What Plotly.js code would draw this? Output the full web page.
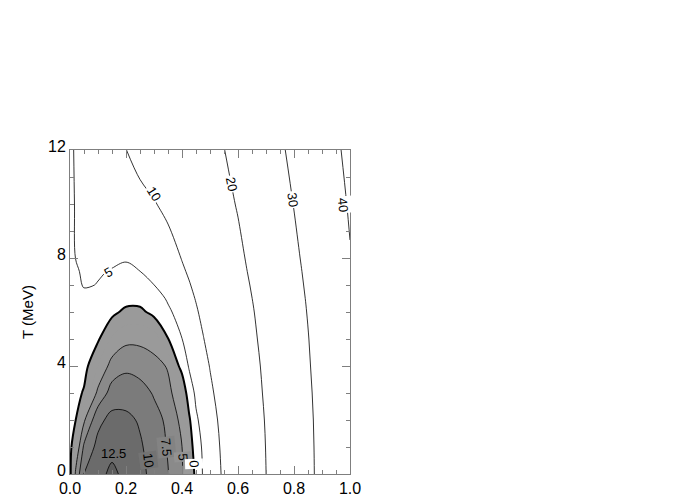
<!DOCTYPE html>
<html>
<head>
<meta charset="utf-8">
<script src="https://cdn.plot.ly/plotly-3.0.1.min.js"></script>
<style>
  html, body { margin: 0; padding: 0; background: #fff; }
  #plot { width: 700px; height: 500px; }
</style>
</head>
<body>
<div id="plot"></div>
<script>
// grid: x along the bottom, T (MeV) up the side
var xVals = [0, 0.02, 0.05, 0.1, 0.15, 0.2, 0.25, 0.3, 0.35, 0.4, 0.425, 0.45, 0.475, 0.5, 0.55, 0.6, 0.7, 0.8, 0.9, 1.0];
var tVals = [0, 1, 2, 3, 4, 5, 6, 6.5, 7, 7.5, 8, 10, 12];

// one row per T value, negative inside the shaded pocket
var rowT0   = [0.8, -5.4, -10.1, -11.8, -13.0, -11.9, -10.7, -9.2, -7.6, -5.2, -2.6, 0.83, 5.37, 7.21, 10.74, 13.83, 19.98, 25.78, 31.59, 37.5];
var rowT1   = [1.0, -2.9, -7.93, -10.8, -11.84, -11.07, -10.31, -8.9, -7.3, -5.02, -2.02, 1.9, 5.86, 7.64, 11.03, 14.06, 20.11, 25.86, 31.66, 37.6];
var rowT2   = [1.5, 0.05, -4.66, -9.32, -10.8, -10.6, -9.72, -8.2, -7.1, -4.2, -0.83, 4.29, 6.53, 8.26, 11.48, 14.44, 20.34, 26.02, 31.78, 37.7];
var rowT3   = [2.0, 0.9, -0.3, -5.66, -8.53, -8.83, -8.33, -7.31, -5.57, -3.5, 2.3, 5.92, 7.57, 9.21, 12.17, 15.03, 20.73, 26.31, 32.0, 37.9];
var rowT4   = [2.4, 1.7, 1.0, -2.53, -6.06, -7.01, -6.69, -5.77, -4.81, 1.43, 5.4, 6.95, 8.57, 10.16, 12.9, 15.63, 21.11, 26.67, 32.31, 38.1];
var rowT5   = [2.8, 2.5, 2.4, 0.33, -2.84, -4.37, -4.38, -4.0, -0.15, 4.95, 6.6, 8.21, 9.81, 11.15, 13.75, 16.35, 21.62, 27.03, 32.61, 38.4];
var rowT6   = [3.2, 3.35, 3.8, 2.5, 0.7, -0.67, -0.73, 0.9, 4.23, 6.9, 8.3, 9.59, 10.84, 12.08, 14.55, 17.03, 22.14, 27.49, 33.05, 38.8];
var rowT6h  = [3.5, 3.8, 4.45, 3.6, 2.11, 1.03, 1.15, 2.88, 5.54, 7.8, 9.05, 10.19, 11.4, 12.61, 15.02, 17.44, 22.49, 27.78, 33.3, 39.0];
var rowT7   = [3.8, 4.5, 5.15, 4.95, 3.51, 2.65, 3.08, 4.98, 6.6, 8.6, 9.73, 10.85, 12.02, 13.19, 15.54, 17.89, 22.88, 28.12, 33.59, 39.2];
var rowT7h  = [4.2, 4.75, 5.3, 5.12, 4.92, 4.26, 4.98, 6.0, 7.6, 9.45, 10.45, 11.58, 12.71, 13.85, 16.11, 18.37, 23.3, 28.45, 33.91, 39.5];
var rowT8   = [4.5, 5.02, 5.3, 5.3, 5.25, 5.32, 5.67, 6.47, 8.02, 10.17, 11.21, 12.29, 13.38, 14.46, 16.62, 18.79, 23.69, 28.82, 34.22, 39.7];
var rowT10  = [4.6, 5.1, 5.55, 6.38, 7.21, 8.04, 8.87, 9.7, 11.17, 12.99, 13.91, 14.82, 15.73, 16.64, 18.47, 20.39, 25.27, 30.16, 35.45, 40.6];
var rowT12  = [4.6, 5.21, 6.0, 7.31, 8.63, 9.95, 11.36, 12.78, 14.2, 15.63, 16.34, 17.05, 17.76, 18.47, 19.89, 22.12, 26.73, 31.48, 36.58, 41.6];

var outerLevels = [5, 10, 20, 30, 40];
var innerLevels = [0, 5, 7.5, 10, 12.5];

// contour labels, where the picture puts them
var labelText  = ['10', '20', '30', '40', '5', '12.5', '10', '7.5', '5', '0'];
var labelX     = [0.299, 0.577, 0.794, 0.976, 0.136, 0.155, 0.28, 0.346, 0.402, 0.443];
var labelT     = [10.39, 10.76, 10.15, 9.96, 7.46, 0.76, 0.5, 1.0, 0.63, 0.39];
var labelAngle = [58, 79, 82, 84, -30, 0, 82, 84, 86, 88];
var labelBg    = ['#fff', '#fff', '#fff', '#fff', '#fff', 'rgba(0,0,0,0)', '#737373', '#838383', '#929292', '#fff'];

var z = [rowT0, rowT1, rowT2, rowT3, rowT4, rowT5, rowT6, rowT6h, rowT7, rowT7h, rowT8, rowT10, rowT12];
// the pocket is labelled by its size, so flip the sign for it
var zIn = z.map(r => r.map(v => -v));

function levelTrace(zz, level, width) {
  return {
    type: 'contour', x: xVals, y: tVals, z: zz,
    autocontour: false,
    contours: {start: level, end: level, size: 2.5, coloring: 'none', showlabels: false},
    line: {color: '#000', width: width, smoothing: 1},
    showscale: false, hoverinfo: 'skip'
  };
}

var shade = {
  type: 'contour', x: xVals, y: tVals, z: zIn,
  autocontour: false,
  contours: {start: 0, end: 12.5, size: 2.5, coloring: 'fill', showlines: false},
  colorscale: [[0, '#ffffff'], [1/6, '#9a9a9a'], [2/6, '#9a9a9a'], [3/6, '#8a8a8a'],
               [4/6, '#7b7b7b'], [5/6, '#6b6b6b'], [1, '#5c5c5c']],
  line: {width: 0, smoothing: 1},
  showscale: false, hoverinfo: 'skip'
};

var data = [shade];
innerLevels.forEach(lv => data.push(levelTrace(zIn, lv, lv === 0 ? 2 : 0.8)));
outerLevels.forEach(lv => data.push(levelTrace(z, lv, 0.8)));

var labelFont = {family: 'Liberation Sans, Arial, sans-serif', size: 13, color: '#000'};
var annotations = labelText.map((txt, i) => ({
  x: labelX[i], y: labelT[i], xref: 'x', yref: 'y',
  text: txt, showarrow: false, textangle: labelAngle[i],
  font: labelFont, bgcolor: labelBg[i], borderpad: 1
}));

var axisGray = '#7f7f7f';
var tickFont = {family: 'Liberation Sans, Arial, sans-serif', size: 16, color: '#000'};

var layout = {
  width: 700, height: 500,
  margin: {l: 70, r: 350, t: 150, b: 26},
  paper_bgcolor: '#fff', plot_bgcolor: '#fff',
  showlegend: false,
  annotations: annotations,
  xaxis: {
    range: [0, 1], tick0: 0, dtick: 0.2, tickformat: '.1f',
    ticks: 'inside', ticklen: 8, tickcolor: axisGray, tickwidth: 1,
    minor: {dtick: 0.05, ticks: 'inside', ticklen: 4, tickcolor: axisGray},
    showline: true, linecolor: axisGray, linewidth: 1, mirror: 'allticks',
    showgrid: false, zeroline: false, tickfont: tickFont
  },
  yaxis: {
    range: [0, 12], tick0: 0, dtick: 4,
    ticks: 'inside', ticklen: 8, tickcolor: axisGray, tickwidth: 1,
    minor: {dtick: 1, ticks: 'inside', ticklen: 4, tickcolor: axisGray},
    showline: true, linecolor: axisGray, linewidth: 1, mirror: 'allticks',
    showgrid: false, zeroline: false, tickfont: tickFont, ticklabelshift: -4,
    title: {text: 'T (MeV)', font: {family: 'Liberation Sans, Arial, sans-serif', size: 15, color: '#000'}, standoff: 10}
  }
};

Plotly.newPlot('plot', data, layout, {staticPlot: true});
</script>
</body>
</html>
